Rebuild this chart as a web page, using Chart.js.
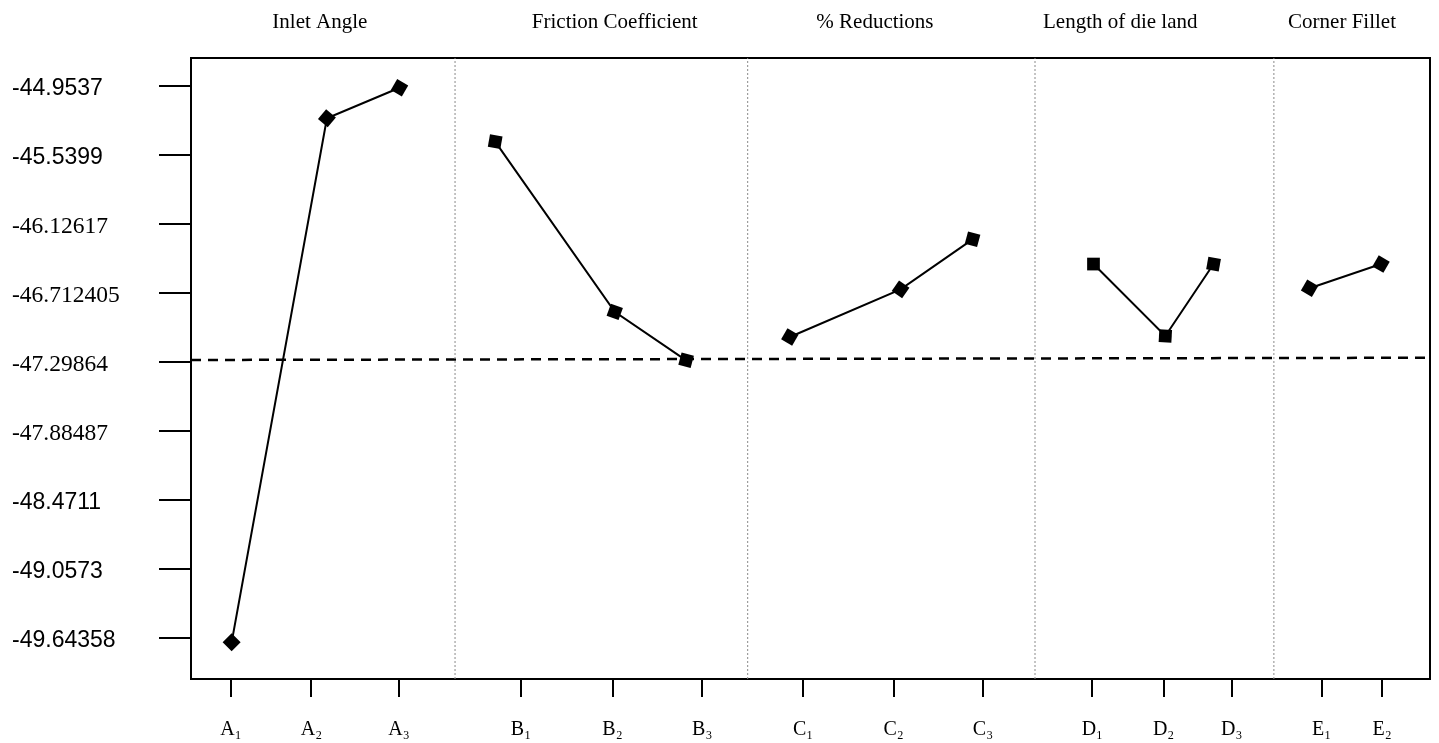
<!DOCTYPE html>
<html>
<head>
<meta charset="utf-8">
<script src="https://cdn.jsdelivr.net/npm/chart.js@4"></script>
<style>
  body { margin: 0; background: #fff; }
  canvas { display: block; }
</style>
</head>
<body>
<canvas id="effects" width="1439" height="743"></canvas>
<script>
// factor names (top) and level labels (bottom)
var groupNames = ['Inlet Angle', 'Friction Coefficient', '% Reductions', 'Length of die land', 'Corner Fillet'];
var groupCenters = [10.4, 34.2, 55.2, 75.0, 92.9];
var levelLabels = ['A\u2081','A\u2082','A\u2083','B\u2081','B\u2082','B\u2083','C\u2081','C\u2082','C\u2083','D\u2081','D\u2082','D\u2083','E\u2081','E\u2082'];
var levelTicks = [3.22, 9.72, 16.79, 26.63, 34.02, 41.26, 49.40, 56.71, 63.92, 72.75, 78.50, 84.00, 91.25, 96.14];
var dividers = [21.31, 44.93, 68.12, 87.40];

var yTicks = [-44.9537, -45.5399, -46.12617, -46.712405, -47.29864, -47.88487, -48.4711, -49.0573, -49.64358];
var yMin = -49.9945, yMax = -44.7184;

// mean S/N per level
var aX = [3.28, 10.97, 16.83],  aY = [-49.683, -45.231, -44.971];
var bX = [24.55, 34.20, 39.96], bY = [-45.429, -46.875, -47.287];
var cX = [48.33, 57.27, 63.08], cY = [-47.089, -46.684, -46.259];
var dX = [72.84, 78.64, 82.53], dY = [-46.469, -47.080, -46.469];
var eX = [90.28, 96.05],        eY = [-46.675, -46.469];
var meanX = [0, 100],           meanY = [-47.284, -47.265];

// marker tilt, degrees
var rotA = [45, 40, 30], rotB = [10, 20, 15], rotC = [30, 35, 15], rotD = [0, 3, 10], rotE = [30, 30];

var serif = 'Liberation Serif';
var sans = 'Liberation Sans';

function pts(xs, ys) {
    return xs.map(function(x, i){ return {x: x, y: ys[i]}; });
}

function factor(xs, ys, rot) {
    return {
        data: pts(xs, ys),
        borderColor: '#000',
        borderWidth: 2,
        backgroundColor: '#000',
        pointStyle: 'rect',
        pointRadius: 9,
        pointBorderWidth: 0,
        pointRotation: function(ctx){ return rot[ctx.dataIndex] || 0; },
        tension: 0
    };
}

var datasets = [];
dividers.forEach(function(d){
    datasets.push({
        data: [{x: d, y: yMin}, {x: d, y: yMax}],
        borderColor: '#8a8a8a',
        borderWidth: 1,
        borderDash: [2, 2],
        pointRadius: 0
    });
});
datasets.push({
    data: pts(meanX, meanY),
    borderColor: '#000',
    borderWidth: 2.5,
    borderDash: [10, 7],
    pointRadius: 0
});
datasets.push(factor(aX, aY, rotA));
datasets.push(factor(bX, bY, rotB));
datasets.push(factor(cX, cY, rotC));
datasets.push(factor(dX, dY, rotD));
datasets.push(factor(eX, eY, rotE));

var ctx = document.getElementById('effects').getContext('2d');
var chart = new Chart(ctx, {
    type: 'line',
    data: { datasets: datasets },
    options: {
        responsive: false,
        animation: false,
        layout: { padding: { left: 12, right: 6, top: 0, bottom: 0 } },
        plugins: { legend: { display: false }, tooltip: { enabled: false } },
        scales: {
            x: {
                type: 'linear', position: 'bottom', min: 0, max: 100,
                afterBuildTicks: function(s){ s.ticks = levelTicks.map(function(v){ return {value: v}; }); },
                afterFit: function(s){ s.height = 64; },
                ticks: {
                    autoSkip: false, maxRotation: 0, padding: 21, color: '#000',
                    font: { family: serif, size: 20 },
                    callback: function(v, i){ return levelLabels[i]; }
                },
                grid: { drawOnChartArea: false, tickLength: 18, color: '#000', lineWidth: 2 },
                border: { color: '#000', width: 2 }
            },
            xTop: {
                type: 'linear', position: 'top', min: 0, max: 100,
                afterBuildTicks: function(s){ s.ticks = groupCenters.map(function(v){ return {value: v}; }); },
                afterFit: function(s){ s.height = 58; },
                ticks: {
                    autoSkip: false, maxRotation: 0, padding: 23, color: '#000',
                    font: { family: serif, size: 21 },
                    callback: function(v, i){ return groupNames[i]; }
                },
                grid: { drawOnChartArea: false, drawTicks: false },
                border: { color: '#000', width: 2 }
            },
            y: {
                type: 'linear', position: 'left', min: yMin, max: yMax,
                afterBuildTicks: function(s){ s.ticks = yTicks.map(function(v){ return {value: v}; }); },
                afterFit: function(s){ s.width = 179; },
                ticks: {
                    autoSkip: false, crossAlign: 'far', color: '#000', labelOffset: 3,
                    callback: function(v){ return String(v); },
                    font: function(c){
                        var i = c.index;
                        if (i >= 2 && i <= 5) return { family: serif, size: 23.5 };
                        return { family: sans, size: 23 };
                    }
                },
                grid: { drawOnChartArea: false, tickLength: 32, color: '#000', lineWidth: 2 },
                border: { color: '#000', width: 2 }
            },
            yRight: {
                type: 'linear', position: 'right', min: yMin, max: yMax,
                afterFit: function(s){ s.width = 0; },
                ticks: { display: false },
                grid: { display: false },
                border: { color: '#000', width: 2 }
            }
        }
    }
});
</script>
</body>
</html>
